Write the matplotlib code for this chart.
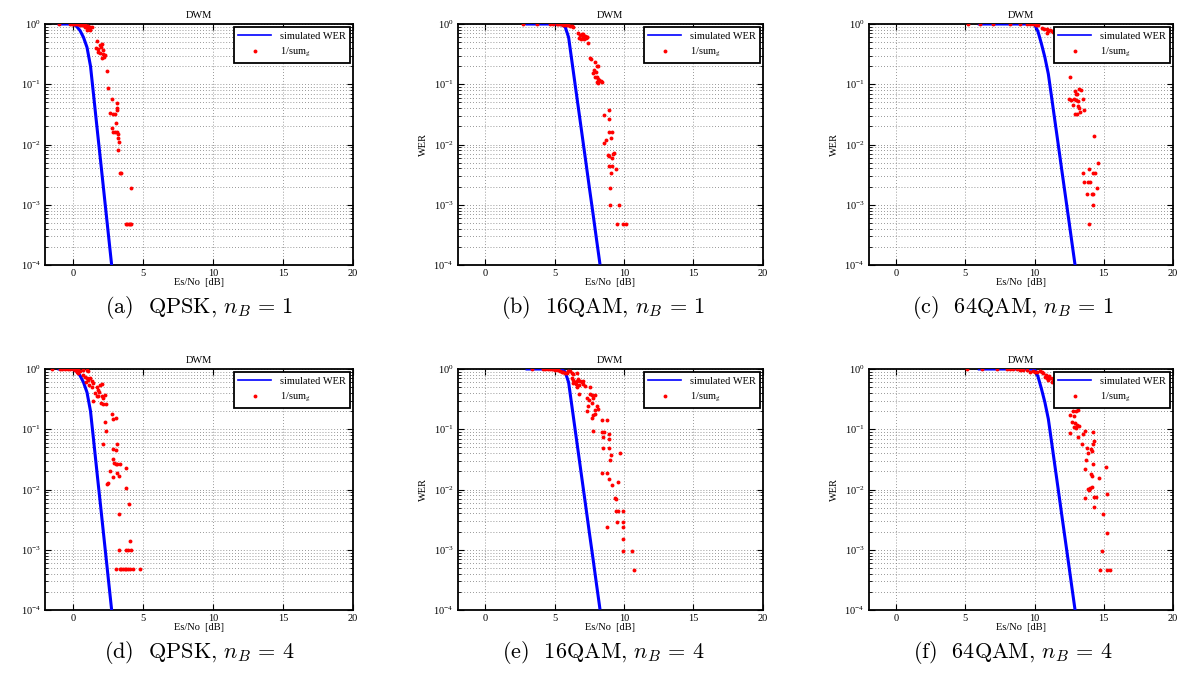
import matplotlib
matplotlib.use("Agg")
import matplotlib.pyplot as plt
from matplotlib.ticker import LogLocator, NullFormatter, FixedLocator

plt.rcParams['font.family'] = ['Liberation Serif', 'DejaVu Serif']
plt.rcParams['mathtext.fontset'] = 'stix'

# simulated WER curves (Es/No in dB, WER)
qpsk_x = [-1.0, -0.5, 0.0, 0.25, 0.5, 0.75, 1.0, 1.25, 1.5, 1.75, 2.0, 2.25, 2.5, 2.75]
qpsk_y = [1.0, 1.0, 1.0, 0.92, 0.78, 0.6, 0.41, 0.2, 0.057, 0.016, 0.0046, 0.0013, 0.00037, 0.000105]

qam16_x = [3.0, 4.0, 5.0, 5.5, 5.75, 6.0, 6.25, 6.5, 6.75, 7.0, 7.25, 7.5, 7.75, 8.0, 8.25]
qam16_y = [1.0, 1.0, 1.0, 0.97, 0.9, 0.6, 0.23, 0.088, 0.034, 0.013, 0.005, 0.0019, 0.00074, 0.00028, 0.000108]

qam64_x = [6.0, 7.0, 8.0, 9.0, 9.5, 10.0, 10.25, 10.5, 10.75, 11.0, 11.25, 11.5, 11.75, 12.0, 12.25, 12.5, 12.75, 13.0]
qam64_y = [1.0, 1.0, 1.0, 1.0, 1.0, 0.99, 0.75, 0.47, 0.28, 0.148, 0.058, 0.0225, 0.0088, 0.0034, 0.00133, 0.00052, 0.0002, 0.000078]

# 1/sum_g estimates
a_x = [-0.98, -0.22, -0.1, 0.02, 0.14, 0.26, 0.38, 0.5, 0.62, 0.73, 0.85, 0.97, 1.09, 1.21, 1.33,
       1.09, 1.21, 0.97, 0.85, 1.71, 1.92, 2.04, 1.66, 1.80, 1.99, 2.11, 1.76, 1.92, 2.11, 2.28, 2.21, 2.04,
       2.40, 2.47, 2.76, 2.64, 2.88, 2.99, 3.11, 3.11, 3.16, 3.07, 2.76, 2.88, 2.99, 3.11, 3.23, 3.23, 3.25,
       3.18, 3.35, 3.45, 4.11, 3.78, 3.87, 3.97, 4.06, 4.16]
a_y = [1.0, 1.0, 1.0, 1.0, 1.0, 0.99, 0.99, 0.98, 0.97, 0.96, 0.95, 0.93, 0.93, 0.9, 0.88,
       0.85, 0.79, 0.8, 0.88, 0.53, 0.45, 0.47, 0.4, 0.38, 0.41, 0.37, 0.34, 0.33, 0.32, 0.31, 0.28, 0.27,
       0.166, 0.086, 0.056, 0.033, 0.032, 0.032, 0.038, 0.041, 0.048, 0.023, 0.0185, 0.0164, 0.016, 0.016,
       0.0152, 0.0127, 0.0112, 0.0081, 0.0034, 0.0034, 0.0019, 0.00048, 0.00048, 0.00048, 0.00048, 0.00048]

b_x = [2.74, 3.70, 4.66, 4.90, 5.14, 5.26, 5.38, 5.50, 5.62, 5.74, 5.86, 5.98, 6.10, 6.22, 6.34,
       6.70, 6.82, 6.94, 7.06, 7.18, 7.30, 6.77, 6.89, 7.01, 7.11, 7.25, 7.35, 7.42,
       7.54, 7.61, 7.90, 8.02, 8.14, 7.86, 7.74, 7.98, 8.07, 8.14, 8.22, 8.31, 8.38, 8.10, 8.02, 7.90,
       8.94, 8.58, 8.92, 8.92, 9.11, 9.06, 8.70, 8.55, 9.27, 9.23, 8.94, 8.82, 9.16, 8.90, 9.11, 9.42,
       9.06, 9.0, 9.0, 9.66, 9.51, 9.90, 10.14]
b_y = [1.0, 1.0, 1.0, 1.0, 1.0, 1.0, 0.99, 0.99, 0.98, 0.98, 0.96, 0.95, 0.93, 0.93, 0.9,
       0.7, 0.66, 0.68, 0.67, 0.63, 0.62, 0.58, 0.56, 0.6, 0.56, 0.58, 0.6, 0.49,
       0.27, 0.26, 0.237, 0.2, 0.2, 0.17, 0.155, 0.16, 0.13, 0.12, 0.118, 0.115, 0.11, 0.106, 0.11, 0.13,
       0.038, 0.031, 0.026, 0.016, 0.016, 0.0127, 0.012, 0.0107, 0.0073, 0.007, 0.0065, 0.0067, 0.0059,
       0.0044, 0.0044, 0.0039, 0.0034, 0.0019, 0.00099, 0.00099, 0.00048, 0.00048, 0.00048]

c_x = [5.21, 6.06, 7.02, 8.23, 8.95, 9.44, 9.68, 9.92, 10.11, 10.28,
       10.52, 10.69, 10.88, 11.0, 11.12, 11.25, 11.37, 11.49, 10.93, 11.56, 11.61, 11.51,
       12.57, 12.52, 12.62, 12.93, 13.0, 13.1, 13.24, 13.34, 12.86, 13.0, 13.17, 13.54, 12.82, 13.17,
       13.24, 13.61, 12.93, 13.1, 13.3, 14.31, 13.54, 13.59, 13.97, 14.21, 14.38, 14.57, 13.85, 14.02,
       14.50, 13.78, 14.14, 14.26, 14.21, 13.95]
c_y = [1.0, 1.0, 1.0, 1.0, 1.0, 1.0, 0.99, 1.0, 0.98, 0.96,
       0.85, 0.82, 0.83, 0.78, 0.79, 0.78, 0.75, 0.74, 0.7, 0.42, 0.37, 0.35,
       0.13, 0.057, 0.054, 0.078, 0.07, 0.069, 0.082, 0.08, 0.058, 0.055, 0.052, 0.056, 0.045, 0.044,
       0.04, 0.038, 0.032, 0.032, 0.034, 0.0138, 0.0034, 0.0024, 0.0039, 0.0034, 0.0034, 0.0049, 0.0024,
       0.0024, 0.0019, 0.0015, 0.0015, 0.0015, 0.00099, 0.00048]

d_x = [-1.48, -0.93, -0.81, -0.57, -0.34, -0.22, 0.02, 0.14, 0.26, 0.38, 0.5, 0.73, 0.97, 1.09,
       0.26, 0.38, 0.73, 0.85, 0.97, 1.09, 1.21, 1.33, 0.92, 1.14, 1.33, 1.45, 1.69, 1.92, 2.04,
       1.76, 1.88, 1.57, 1.80, 1.69, 2.04, 2.28, 2.16, 1.45, 1.99, 2.16, 2.35,
       2.76, 2.88, 3.04, 2.28, 2.35, 2.11, 3.16, 2.88, 3.07, 2.83, 2.93, 3.11, 3.35, 3.07, 2.64, 3.11,
       2.83, 3.30, 3.78, 2.52, 2.45, 3.78, 3.99, 3.28, 4.06, 3.30, 3.78, 3.95, 4.14,
       3.07, 3.35, 3.45, 3.57, 3.68, 3.80, 3.92, 4.04, 4.25, 4.78]
d_y = [1.0, 1.0, 1.0, 1.0, 1.0, 1.0, 0.99, 0.96, 0.99, 0.98, 0.93, 0.97, 0.98, 0.93,
       0.88, 0.85, 0.79, 0.75, 0.7, 0.66, 0.7, 0.63, 0.62, 0.54, 0.51, 0.58, 0.51, 0.54, 0.56,
       0.45, 0.41, 0.4, 0.35, 0.35, 0.36, 0.37, 0.33, 0.29, 0.27, 0.26, 0.26,
       0.18, 0.15, 0.155, 0.13, 0.095, 0.056, 0.056, 0.047, 0.045, 0.032, 0.028, 0.027, 0.027, 0.026,
       0.02, 0.019, 0.016, 0.017, 0.023, 0.013, 0.0125, 0.0104, 0.0057, 0.0039, 0.0014, 0.00099,
       0.00099, 0.00099, 0.00099,
       0.00048, 0.00048, 0.00048, 0.00048, 0.00048, 0.00048, 0.00048, 0.00048, 0.00048, 0.00048]

e_x = [3.34, 4.18, 4.30, 4.54, 4.66, 4.78, 4.90, 5.02, 5.14, 5.26, 5.38, 5.50, 5.62, 5.74, 5.86,
       5.98, 6.10, 6.22, 6.34, 6.58,
       6.22, 6.34, 6.46, 6.58, 6.70, 6.82, 6.94, 7.06, 6.29, 6.53, 6.77, 7.01, 7.18, 7.54, 6.63,
       6.77, 7.54, 7.66, 7.90, 7.30, 7.78, 7.49, 7.66, 7.42, 8.02, 8.14, 7.90, 7.30, 7.90, 7.78, 7.66,
       8.38, 8.74, 7.73, 8.38, 8.58, 8.94, 8.50, 8.94, 8.50, 8.94, 9.06, 9.71, 9.0, 8.38, 8.74, 8.94,
       9.59, 9.11, 9.35, 9.40, 9.42, 9.59, 9.95, 9.47, 9.95, 9.95, 8.74, 9.95, 9.90, 10.55, 10.74]
e_y = [1.0, 1.0, 1.0, 0.99, 1.0, 0.99, 1.0, 0.98, 0.99, 0.96, 0.93, 0.9, 0.9, 0.85, 0.85,
       0.93, 0.94, 0.85, 0.82, 0.85,
       0.7, 0.66, 0.62, 0.63, 0.67, 0.63, 0.6, 0.63, 0.58, 0.56, 0.54, 0.56, 0.53, 0.51, 0.51,
       0.39, 0.39, 0.37, 0.37, 0.33, 0.33, 0.31, 0.27, 0.24, 0.24, 0.22, 0.21, 0.2, 0.18, 0.17, 0.155,
       0.14, 0.14, 0.094, 0.089, 0.089, 0.082, 0.073, 0.069, 0.049, 0.048, 0.038, 0.04, 0.031, 0.0185,
       0.019, 0.015, 0.0135, 0.0119, 0.0072, 0.0069, 0.0044, 0.0044, 0.0044, 0.0029, 0.0029, 0.0024,
       0.0024, 0.0015, 0.00097, 0.00097, 0.00047]

f_x = [5.14, 6.18, 7.26, 7.99, 8.23, 8.47, 8.71, 8.95, 9.19, 9.44, 9.68, 9.92, 10.04, 10.16, 10.40,
       10.52, 10.64,
       10.76, 10.88, 11.0, 11.12, 11.25, 11.37, 11.49, 10.83, 11.07, 11.32, 11.61, 11.61,
       12.81, 12.98, 13.17, 12.57, 12.89, 12.69, 12.93, 13.05, 13.24, 12.86, 13.0, 12.59, 13.17, 13.49,
       13.66, 14.21, 13.42, 14.31, 14.26, 13.78, 14.07, 13.90, 14.14, 13.71, 14.26, 13.66, 14.14, 14.07,
       15.18, 14.69, 14.02, 13.90, 13.97, 14.14, 14.45, 14.33, 13.66, 14.31, 15.28, 14.98, 15.28,
       14.86, 14.74, 15.28, 15.47]
f_y = [1.0, 1.0, 1.0, 1.0, 1.0, 0.99, 0.99, 0.98, 0.96, 0.95, 0.9, 0.93, 0.88, 0.88, 0.93,
       0.9, 0.85,
       0.75, 0.7, 0.66, 0.7, 0.62, 0.66, 0.58, 0.79, 0.78, 0.7, 0.54, 0.33,
       0.2, 0.2, 0.21, 0.17, 0.168, 0.13, 0.125, 0.118, 0.115, 0.11, 0.103, 0.088, 0.075, 0.085,
       0.094, 0.089, 0.058, 0.064, 0.056, 0.048, 0.047, 0.04, 0.043, 0.031, 0.026, 0.022, 0.017, 0.018,
       0.024, 0.0156, 0.0107, 0.0101, 0.0098, 0.0109, 0.0076, 0.0074, 0.0071, 0.0051, 0.0085, 0.0039,
       0.0019, 0.00095, 0.00047, 0.00047, 0.00047]

captions = [r'(a)  QPSK, $n_B\,=\,1$', r'(b)  16QAM, $n_B\,=\,1$', r'(c)  64QAM, $n_B\,=\,1$',
            r'(d)  QPSK, $n_B\,=\,4$', r'(e)  16QAM, $n_B\,=\,4$', r'(f)  64QAM, $n_B\,=\,4$']

panels = [
    (qpsk_x, qpsk_y, a_x, a_y), (qam16_x, qam16_y, b_x, b_y), (qam64_x, qam64_y, c_x, c_y),
    (qpsk_x, qpsk_y, d_x, d_y), (qam16_x, qam16_y, e_x, e_y), (qam64_x, qam64_y, f_x, f_y),
]

W, H = 1200, 673
fig = plt.figure(figsize=(W / 100, H / 100), dpi=100)

# axes boxes in pixels: left, width; top rows
lefts = [45, 457.7, 868.7]
widths = [308, 305, 304]
tops = [24, 369]
ax_h = 241
cap_x = [199, 603, 1013]
cap_y = [308, 652]
grid_style = dict(ls=(0, (1, 2.5)), color='#777777', lw=0.6)

for i, (sx, sy, px, py) in enumerate(panels):
    row, col = divmod(i, 3)
    rect = [lefts[col] / W, (H - tops[row] - ax_h) / H, widths[col] / W, ax_h / H]
    ax = fig.add_axes(rect)
    ax.semilogy(sx, sy, color='#0000ff', lw=2.2, zorder=3)
    ax.plot(px, py, 'o', color='red', ms=2.8, mew=0, zorder=4)
    ax.set_xlim(-2, 20)
    ax.set_ylim(1e-4, 1)
    ax.xaxis.set_major_locator(FixedLocator([0, 5, 10, 15, 20]))
    ax.yaxis.set_major_locator(LogLocator(base=10, numticks=10))
    ax.yaxis.set_minor_locator(LogLocator(base=10, subs=range(2, 10), numticks=10))
    ax.yaxis.set_minor_formatter(NullFormatter())
    ax.grid(True, which='major', **grid_style)
    ax.yaxis.grid(True, which='minor', **grid_style)
    ax.tick_params(which='both', direction='in', top=True, right=True, labelsize=7.5, pad=3)
    ax.tick_params(which='major', length=4, width=0.8)
    ax.tick_params(which='minor', length=2, width=0.6)
    for s in ax.spines.values():
        s.set_linewidth(1.3)
    ax.set_title('DWM', fontsize=7.5, pad=4)
    ax.set_xlabel('Es/No  [dB]', fontsize=7.5, labelpad=0)
    if col > 0:
        ax.set_ylabel('WER', fontsize=7.5, labelpad=4)

    # legend entries drawn thinner than the data line
    h_line, = ax.plot([], [], color='#0000ff', lw=1.2)
    h_dot, = ax.plot([], [], 'o', color='red', ms=2.8, mew=0)
    leg = ax.legend([h_line, h_dot], ['simulated WER', r'1/sum$_{\rm g}$'],
                    loc='upper right', fontsize=7.5, numpoints=1, fancybox=False,
                    framealpha=1, edgecolor='black', borderaxespad=0.3,
                    handlelength=3.2, borderpad=0.4, labelspacing=0.5)
    leg.get_frame().set_linewidth(1.3)
    fig.text(cap_x[col] / W, 1 - cap_y[row] / H, captions[i], ha='center', va='center',
             fontsize=16, family='cmr10', math_fontfamily='cm')

fig.savefig('out.png', dpi=100)
